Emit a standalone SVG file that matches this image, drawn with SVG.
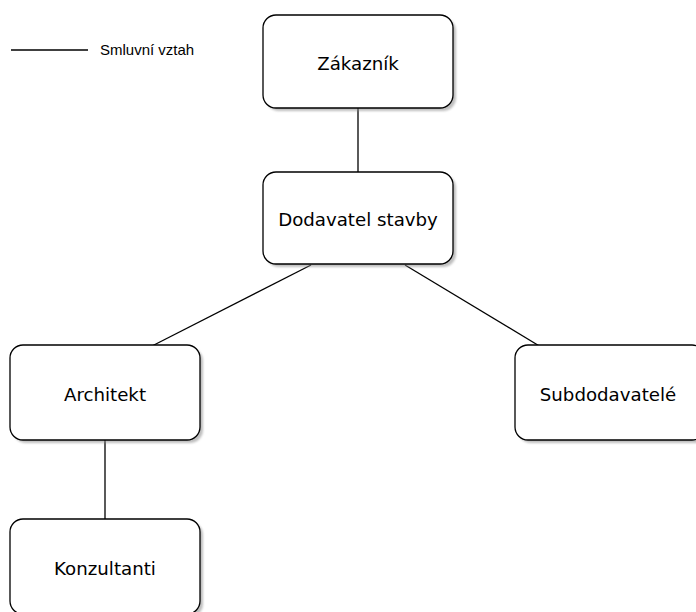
<svg xmlns="http://www.w3.org/2000/svg" width="696" height="612" viewBox="0 0 696 612">
  <defs>
    <style>
      .box { fill: #ffffff; stroke: #000000; stroke-width: 1.3; }
      .shadow { fill: #8a8a8a; opacity: 0.55; }
      .label { font-family: "DejaVu Sans", sans-serif; font-size: 18.2px; fill: #000000; text-anchor: middle; }
      .edge { stroke: #000000; stroke-width: 1.3; fill: none; }
      .legend { font-family: "Liberation Sans", Arial, sans-serif; font-size: 15px; fill: #000000; }
    </style>
    <filter id="soft" x="-10%" y="-10%" width="120%" height="120%">
      <feGaussianBlur stdDeviation="1"/>
    </filter>
  </defs>

  <rect width="696" height="612" fill="#ffffff"/>

  <!-- legend -->
  <g id="legend">
    <line class="edge" x1="11" y1="50" x2="88" y2="50"/>
    <text class="legend" x="100" y="55">Smluvní vztah</text>
  </g>

  <!-- connectors -->
  <g id="connectors">
    <line class="edge" x1="358" y1="108" x2="358" y2="172"/>
    <line class="edge" x1="311" y1="265" x2="152" y2="346"/>
    <line class="edge" x1="405" y1="265" x2="541" y2="347"/>
    <line class="edge" x1="105" y1="440" x2="105" y2="519"/>
  </g>

  <g id="zakaznik">
    <rect class="shadow" x="266" y="18" width="190" height="93" rx="13" filter="url(#soft)"/>
    <rect class="box" x="263" y="15" width="190" height="93" rx="13"/>
    <text class="label" x="358" y="70">Zákazník</text>
  </g>

  <g id="dodavatel">
    <rect class="shadow" x="266" y="175" width="190" height="92" rx="13" filter="url(#soft)"/>
    <rect class="box" x="263" y="172" width="190" height="92" rx="13"/>
    <text class="label" x="358" y="226">Dodavatel stavby</text>
  </g>

  <g id="architekt">
    <rect class="shadow" x="13" y="348" width="190" height="95" rx="13" filter="url(#soft)"/>
    <rect class="box" x="10" y="345" width="190" height="95" rx="13"/>
    <text class="label" x="105" y="401">Architekt</text>
  </g>

  <g id="subdodavatele">
    <rect class="shadow" x="518" y="348" width="190" height="95" rx="13" filter="url(#soft)"/>
    <rect class="box" x="515" y="345" width="190" height="95" rx="13"/>
    <text class="label" x="608" y="401">Subdodavatelé</text>
  </g>

  <g id="konzultanti">
    <rect class="shadow" x="13" y="522" width="190" height="95" rx="13" filter="url(#soft)"/>
    <rect class="box" x="10" y="519" width="190" height="95" rx="13"/>
    <text class="label" x="105" y="575">Konzultanti</text>
  </g>
</svg>
